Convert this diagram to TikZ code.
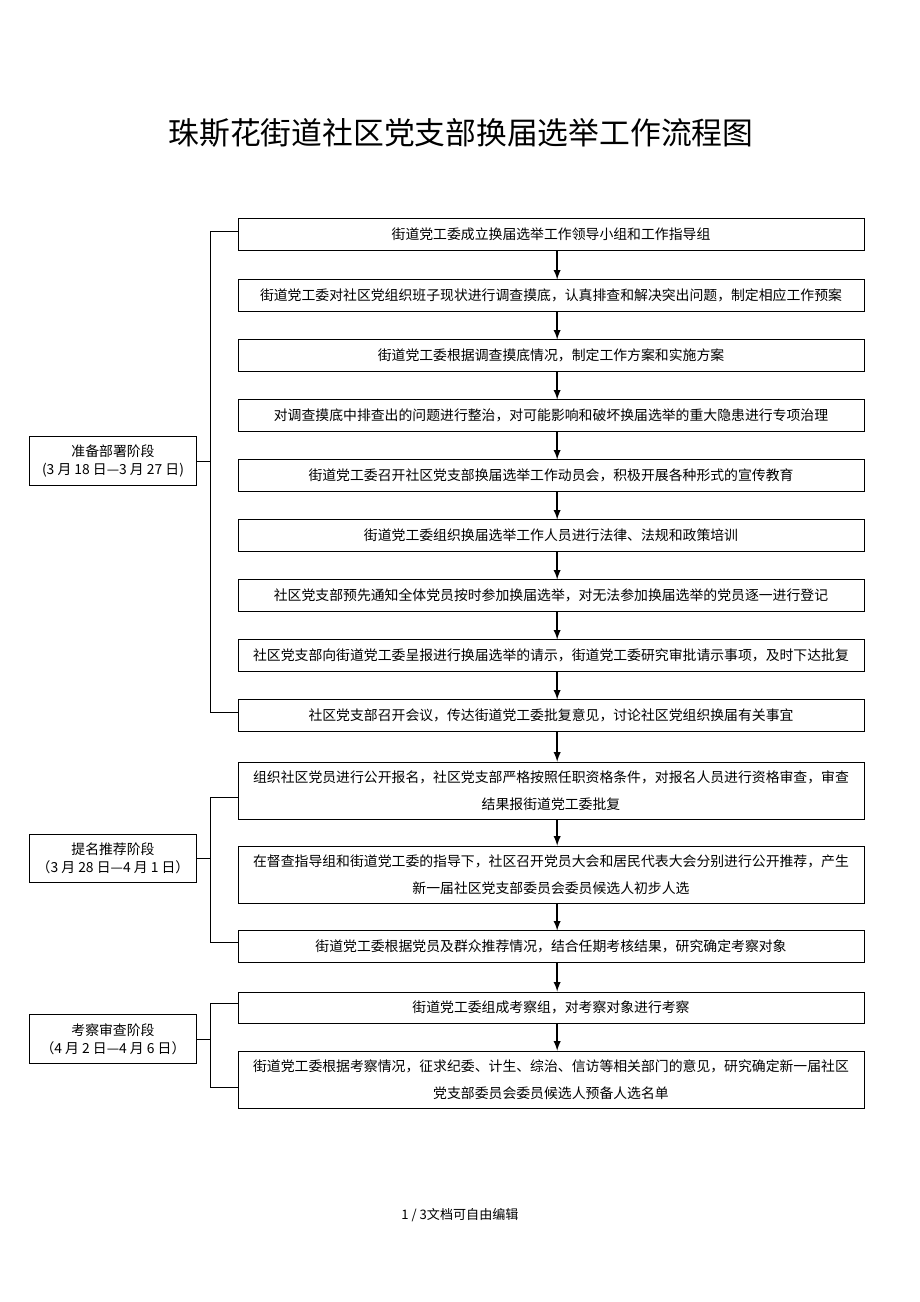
\documentclass[tikz,border=0pt]{standalone}
\usepackage{fontspec}
\newfontfamily\cjk{Noto Sans CJK SC}
\usepackage{tikz}

\tikzset{
  stepbox/.style={draw, semithick, inner sep=0pt, minimum width=14.29cm,
    minimum height=0.71cm, align=center, font=\cjk\fontsize{9}{17.5}\selectfont},
  twobox/.style={stepbox, minimum height=1.32cm},
  phasebox/.style={draw, semithick, inner sep=0pt, minimum width=3.81cm,
    minimum height=1.10cm, align=center, font=\cjk\fontsize{9}{11.6}\selectfont},
  flow/.style={line width=1.1pt, -latex},
}

\begin{document}
\begin{tikzpicture}[x=0.022826cm, y=-0.022826cm]
        \useasboundingbox (0,0) rectangle (920,1302);
        \node (title) at (461,133) {\cjk\fontsize{20}{24}\selectfont 珠斯花街道社区党支部换届选举工作流程图};

        \node [stepbox] (b1)  at (551,234.5) {街道党工委成立换届选举工作领导小组和工作指导组};               %step 1
        \node [stepbox] (b2)  at (551,295.5) {街道党工委对社区党组织班子现状进行调查摸底，认真排查和解决突出问题，制定相应工作预案};
        \node [stepbox] (b3)  at (551,355.5) {街道党工委根据调查摸底情况，制定工作方案和实施方案};
        \node [stepbox] (b4)  at (551,415.5) {对调查摸底中排查出的问题进行整治，对可能影响和破坏换届选举的重大隐患进行专项治理};
        \node [stepbox] (b5)  at (551,475.5) {街道党工委召开社区党支部换届选举工作动员会，积极开展各种形式的宣传教育};
        \node [stepbox] (b6)  at (551,535.5) {街道党工委组织换届选举工作人员进行法律、法规和政策培训};
        \node [stepbox] (b7)  at (551,595.5) {社区党支部预先通知全体党员按时参加换届选举，对无法参加换届选举的党员逐一进行登记};
        \node [stepbox] (b8)  at (551,655.5) {社区党支部向街道党工委呈报进行换届选举的请示，街道党工委研究审批请示事项，及时下达批复};
        \node [stepbox] (b9)  at (551,715.5) {社区党支部召开会议，传达街道党工委批复意见，讨论社区党组织换届有关事宜}; %step 9
        \node [twobox]  (b10) at (551,791)   {组织社区党员进行公开报名，社区党支部严格按照任职资格条件，对报名人员进行资格审查，审查\\结果报街道党工委批复};
        \node [twobox]  (b11) at (551,875)   {在督查指导组和街道党工委的指导下，社区召开党员大会和居民代表大会分别进行公开推荐，产生\\新一届社区党支部委员会委员候选人初步人选};
        \node [stepbox] (b12) at (551,946.5) {街道党工委根据党员及群众推荐情况，结合任期考核结果，研究确定考察对象};
        \node [stepbox] (b13) at (551,1007.5){街道党工委组成考察组，对考察对象进行考察};
        \node [twobox]  (b14) at (551,1080)  {街道党工委根据考察情况，征求纪委、计生、综治、信访等相关部门的意见，研究确定新一届社区\\党支部委员会委员候选人预备人选名单};

        \node [phasebox] (p1) at (113,461)   {准备部署阶段\\(3 月 18 日—3 月 27 日)};   %phase 1
        \node [phasebox] (p2) at (113,858.5) {提名推荐阶段\\（3 月 28 日—4 月 1 日）}; %phase 2
        \node [phasebox] (p3) at (113,1039)  {考察审查阶段\\（4 月 2 日—4 月 6 日）};  %phase 3

        \draw [flow] ([xshift=4pt]b1.south)  -- ([xshift=4pt]b2.north);
        \draw [flow] ([xshift=4pt]b2.south)  -- ([xshift=4pt]b3.north);
        \draw [flow] ([xshift=4pt]b3.south)  -- ([xshift=4pt]b4.north);
        \draw [flow] ([xshift=4pt]b4.south)  -- ([xshift=4pt]b5.north);
        \draw [flow] ([xshift=4pt]b5.south)  -- ([xshift=4pt]b6.north);
        \draw [flow] ([xshift=4pt]b6.south)  -- ([xshift=4pt]b7.north);
        \draw [flow] ([xshift=4pt]b7.south)  -- ([xshift=4pt]b8.north);
        \draw [flow] ([xshift=4pt]b8.south)  -- ([xshift=4pt]b9.north);
        \draw [flow] ([xshift=4pt]b9.south)  -- ([xshift=4pt]b10.north);
        \draw [flow] ([xshift=4pt]b10.south) -- ([xshift=4pt]b11.north);
        \draw [flow] ([xshift=4pt]b11.south) -- ([xshift=4pt]b12.north);
        \draw [flow] ([xshift=4pt]b12.south) -- ([xshift=4pt]b13.north);
        \draw [flow] ([xshift=4pt]b13.south) -- ([xshift=4pt]b14.north);

        %brackets
        \draw [semithick] ([yshift=2pt]b1.west) -- ++(-27,0) |- ([yshift=2.3pt]b9.west);
        \draw [semithick] (p1.east) -- ++(14.5,0);
        \draw [semithick] ([yshift=-4.5pt]b10.west) -- ++(-27,0) |- ([yshift=2.6pt]b12.west);
        \draw [semithick] (p2.east) -- ++(14.5,0);
        \draw [semithick] ([yshift=2.9pt]b13.west) -- ++(-27,0) |- ([yshift=-4.9pt]b14.west);
        \draw [semithick] (p3.east) -- ++(14.5,0);

        \node (foot) at (460,1215) {\cjk\fontsize{8.5}{10}\selectfont 1 / 3文档可自由编辑};
\end{tikzpicture}
\end{document}
